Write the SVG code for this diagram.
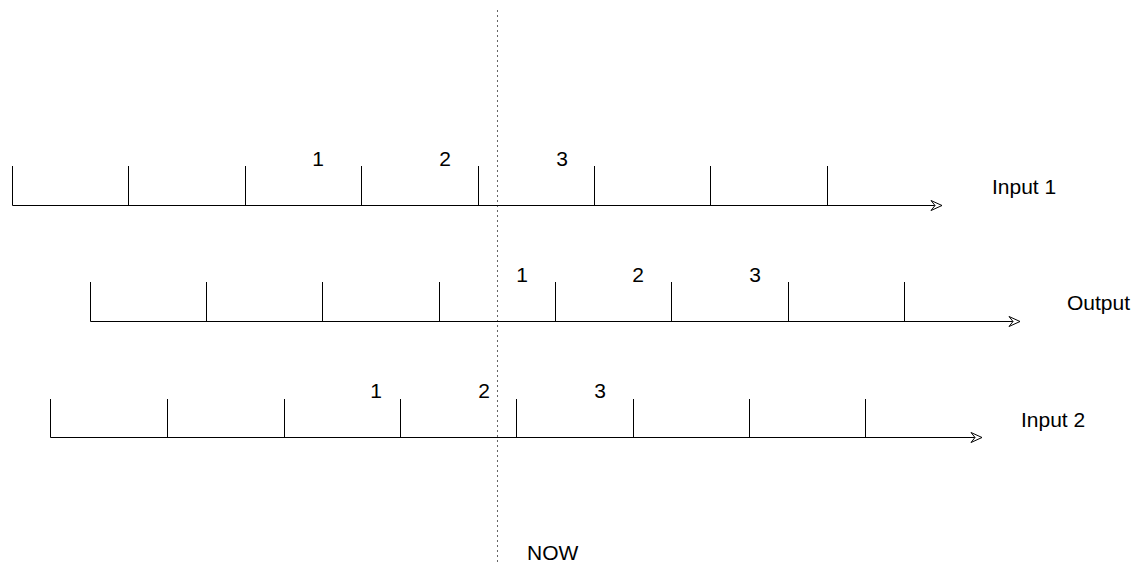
<svg xmlns="http://www.w3.org/2000/svg" width="1144" height="564" viewBox="0 0 1144 564">
<defs>
<style>
.ln{stroke:#000;stroke-width:1;fill:none}
.t{font-family:"Liberation Sans",Arial,sans-serif;font-size:21px;fill:#000}
.now{stroke:#666;stroke-width:1;stroke-dasharray:2 3;fill:none}
</style>
<marker id="ah" markerWidth="16" markerHeight="12" refX="12" refY="6" orient="auto" markerUnits="userSpaceOnUse">
<path d="M1,1 L12,6 L1,11 L5,6 Z" fill="#fff" stroke="#000" stroke-width="1"/>
</marker>
</defs>
<rect width="1144" height="564" fill="#fff"/>
<g id="connectors">
<line class="now" x1="497.5" y1="10" x2="497.5" y2="564"/>
</g>
<g id="input1">
<path class="ln" d="M12.5,205.5 H942" marker-end="url(#ah)"/>
<path class="ln" d="M12.5,166 V205.5 M128.5,166 V205.5 M245.5,166 V205.5 M361.5,166 V205.5 M478.5,166 V205.5 M594.5,166 V205.5 M710.5,166 V205.5 M827.5,166 V205.5"/>
<text class="t" x="318" y="166" text-anchor="middle">1</text>
<text class="t" x="445" y="166" text-anchor="middle">2</text>
<text class="t" x="562" y="166" text-anchor="middle">3</text>
<text class="t" x="992" y="194">Input 1</text>
</g>
<g id="output">
<path class="ln" d="M90.5,321.5 H1020" marker-end="url(#ah)"/>
<path class="ln" d="M90.5,282 V321.5 M206.5,282 V321.5 M322.5,282 V321.5 M439.5,282 V321.5 M555.5,282 V321.5 M671.5,282 V321.5 M788.5,282 V321.5 M904.5,282 V321.5"/>
<text class="t" x="522" y="282" text-anchor="middle">1</text>
<text class="t" x="638" y="282" text-anchor="middle">2</text>
<text class="t" x="755" y="282" text-anchor="middle">3</text>
<text class="t" x="1067" y="310">Output</text>
</g>
<g id="input2">
<path class="ln" d="M50.5,437.5 H982" marker-end="url(#ah)"/>
<path class="ln" d="M50.5,399 V437.5 M167.5,399 V437.5 M284.5,399 V437.5 M400.5,399 V437.5 M516.5,399 V437.5 M633.5,399 V437.5 M749.5,399 V437.5 M865.5,399 V437.5"/>
<text class="t" x="376" y="398" text-anchor="middle">1</text>
<text class="t" x="484" y="398" text-anchor="middle">2</text>
<text class="t" x="600" y="398" text-anchor="middle">3</text>
<text class="t" x="1021" y="427">Input 2</text>
</g>
<g id="now">
<text class="t" x="527" y="560">NOW</text>
</g>
</svg>
